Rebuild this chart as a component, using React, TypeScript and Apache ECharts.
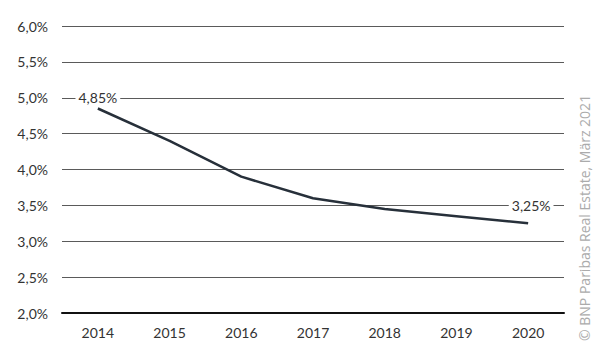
import React, { useEffect, useRef } from "react";
import * as echarts from "echarts";

const years = ["2014", "2015", "2016", "2017", "2018", "2019", "2020"];
const yields = [4.85, 4.4, 3.9, 3.6, 3.45, 3.35, 3.25];
const labelled = [0, 6];
const source = "© BNP Paribas Real Estate, März 2021";

const fmt = (v: number, d: number) => v.toFixed(d).replace(".", ",") + "%";

export default function App() {
  const ref = useRef<HTMLDivElement>(null);
  useEffect(() => {
    const chart = echarts.init(ref.current!, null, { renderer: "svg" });
    const font = "Lato, 'Open Sans', sans-serif";
    chart.setOption({
      animation: false,
      backgroundColor: "#ffffff",
      grid: { left: 62, right: 36, top: 26, bottom: 48 },
      xAxis: {
        type: "category",
        data: years,
        boundaryGap: true,
        axisLine: { lineStyle: { color: "#111", width: 2 } },
        axisTick: { show: false },
        axisLabel: { color: "#333", fontSize: 14, fontFamily: font, margin: 12 },
      },
      yAxis: {
        type: "value",
        min: 2,
        max: 6,
        interval: 0.5,
        axisLine: { show: false },
        axisTick: { show: false },
        axisLabel: {
          color: "#333",
          fontSize: 14,
          fontFamily: font,
          margin: 14,
          formatter: (v: number) => fmt(v, 1),
        },
        splitLine: { lineStyle: { color: "#5a5a5a", width: 1 } },
      },
      series: [
        {
          type: "line",
          data: yields.map((v, i) =>
            labelled.includes(i)
              ? {
                  value: v,
                  label: {
                    show: true,
                    position: "top",
                    distance: i === 0 ? 3 : 10,
                    offset: i === 6 ? [3, 0] : [0, 0],
                    formatter: fmt(v, 2),
                    color: "#333",
                    fontSize: 14,
                    fontFamily: font,
                    backgroundColor: "#fff",
                    padding: [1, 3],
                  },
                }
              : v
          ),
          symbol: "circle",
          symbolSize: 0,
          showSymbol: true,
          itemStyle: { color: "#27303a" },
          lineStyle: { color: "#27303a", width: 2.5 },
          z: 3,
        },
      ],
      graphic: [
        {
          type: "text",
          x: 584,
          y: 341,
          rotation: Math.PI / 2,
          style: {
            text: source,
            fill: "#ababab",
            fontSize: 14,
            fontFamily: "'Open Sans', sans-serif",
            verticalAlign: "middle",
            align: "left",
          },
        },
      ],
    });
    return () => chart.dispose();
  }, []);
  return (
    <div
      ref={ref}
      style={{ position: "absolute", left: 0, top: 0, width: 600, height: 361 }}
    />
  );
}
